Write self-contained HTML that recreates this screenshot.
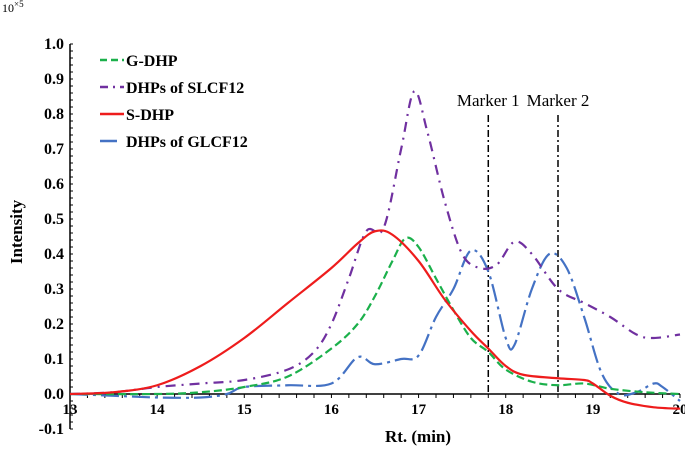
<!DOCTYPE html>
<html><head><meta charset="utf-8"><style>
body{margin:0;background:#fff;}
svg{display:block;font-family:"Liberation Serif",serif;}
</style></head><body>
<svg id="chart" width="685" height="452">
<text x="2" y="12" font-size="12">10<tspan font-size="9" dy="-5">×5</tspan></text>
<g id="axes"></g>
<g id="series"></g>
<text x="418" y="442" font-size="17" font-weight="bold" text-anchor="middle">Rt. (min)</text>
<text transform="translate(22,232) rotate(-90)" font-size="17" font-weight="bold" text-anchor="middle">Intensity</text>
<g font-size="16" font-weight="bold">
 <g><line x1="100" y1="60" x2="124" y2="60" stroke="#1bb04b" stroke-width="2.5" stroke-dasharray="7,4"/><text x="126" y="66">G-DHP</text></g>
 <g><line x1="100" y1="87" x2="124" y2="87" stroke="#7030a0" stroke-width="2.5" stroke-dasharray="8,5,2,5"/><text x="126" y="93">DHPs of SLCF12</text></g>
 <g><line x1="100" y1="114" x2="124" y2="114" stroke="#ee1c1c" stroke-width="2.5"/><text x="126" y="120">S-DHP</text></g>
 <g><line x1="100" y1="141" x2="117" y2="141" stroke="#4472c4" stroke-width="2.5"/><text x="126" y="147">DHPs of GLCF12</text></g>
</g>
</svg>
<script>
const xTicks=[13,14,15,16,17,18,19,20];
const yTicks=[-0.1,0,0.1,0.2,0.3,0.4,0.5,0.6,0.7,0.8,0.9,1.0];
const markerTimes=[17.8,18.6];
const markerLabels=["Marker 1","Marker 2"];
const sdhpX=[13,13.5,14,14.5,15,15.5,16,16.3,16.5,16.7,17,17.3,17.6,17.8,18,18.2,18.6,18.9,19.0,19.2,19.4,19.7,20];
const sdhpY=[0,0.005,0.025,0.08,0.16,0.26,0.36,0.43,0.465,0.455,0.38,0.27,0.18,0.13,0.08,0.055,0.045,0.04,0.03,-0.005,-0.025,-0.038,-0.042];
const gdhpX=[13,14,14.5,15,15.5,16,16.3,16.5,16.7,16.85,17,17.2,17.4,17.6,17.8,18,18.3,18.6,18.9,19.2,19.6,20];
const gdhpY=[0,0,0.005,0.02,0.05,0.13,0.2,0.28,0.38,0.445,0.42,0.33,0.24,0.16,0.12,0.07,0.035,0.025,0.03,0.015,0.005,0];
const slcfX=[13,13.5,14,14.5,15,15.5,15.8,16,16.2,16.4,16.6,16.8,16.95,17.1,17.3,17.5,17.7,17.9,18.1,18.3,18.6,18.9,19.2,19.5,19.7,20];
const slcfY=[0,0.005,0.02,0.03,0.04,0.07,0.12,0.2,0.33,0.465,0.475,0.7,0.865,0.75,0.55,0.4,0.36,0.37,0.435,0.40,0.3,0.26,0.22,0.17,0.16,0.17];
const glcfX=[13,13.5,14,14.5,14.8,15,15.5,16,16.3,16.5,16.8,17.0,17.2,17.4,17.6,17.8,18.0,18.1,18.3,18.5,18.7,18.9,19.1,19.3,19.5,19.7,19.8,20];
const glcfY=[0,-0.005,-0.01,-0.01,0,0.02,0.025,0.03,0.105,0.085,0.1,0.11,0.22,0.3,0.41,0.35,0.16,0.14,0.3,0.4,0.36,0.22,0.06,0.0,0.005,0.03,0.02,-0.02];
const NS="http://www.w3.org/2000/svg";
const X0=70,X1=680,Y0=394,PX=(X1-X0)/7,PY=350;
function xs(t){return X0+(t-13)*PX;}
function ys(v){return Y0-v*PY;}
function mk(tag,attrs,parent){const e=document.createElementNS(NS,tag);for(const k in attrs)e.setAttribute(k,attrs[k]);parent.appendChild(e);return e;}
const axes=document.getElementById('axes');
const ya=mk('line',{x1:X0,y1:ys(1.0),x2:X0,y2:ys(-0.1),stroke:'#000','stroke-width':1.5},axes);


const xa=mk('line',{x1:X0,y1:Y0,x2:X1,y2:Y0,stroke:'#000','stroke-width':1.5},axes);


for(let v=-0.1;v<=1.0001;v+=0.02){mk('line',{x1:X0,y1:ys(v),x2:X0+3,y2:ys(v),stroke:'#000','stroke-width':1},axes);}
for(let t=13;t<=20.001;t+=0.2){mk('line',{x1:xs(t),y1:Y0,x2:xs(t),y2:Y0+4,stroke:'#000','stroke-width':1},axes);}
yTicks.forEach(v=>{const t=mk('text',{x:X0-6,y:ys(v)+5,'font-size':16,'font-weight':'bold','text-anchor':'end'},axes);t.textContent=v.toFixed(1);

});
xTicks.forEach(v=>{const t=mk('text',{x:xs(v),y:Y0+20,'font-size':15,'font-weight':'bold','text-anchor':'middle'},axes);t.textContent=v;

});
markerTimes.forEach((m,i)=>{const l=mk('line',{x1:xs(m),y1:115,x2:xs(m),y2:Y0,stroke:'#000','stroke-width':1.5,'stroke-dasharray':'7,3,2,3'},axes);


const t=mk('text',{x:xs(m),y:106,'font-size':17,'text-anchor':'middle'},axes);t.textContent=markerLabels[i];

});
function path(xv,yv){const p=xv.map((x,i)=>[xs(x),ys(yv[i])]);let d='M'+p[0][0]+','+p[0][1];
for(let i=0;i<p.length-1;i++){const a=p[Math.max(0,i-1)],b=p[i],c=p[i+1],e=p[Math.min(p.length-1,i+2)];
d+=' C'+(b[0]+(c[0]-a[0])/6)+','+(b[1]+(c[1]-a[1])/6)+' '+(c[0]-(e[0]-b[0])/6)+','+(c[1]-(e[1]-b[1])/6)+' '+c[0]+','+c[1];}return d;}
const sg=document.getElementById('series');
const defs=[[glcfX,glcfY,'#4472c4','18,5,3,5','series-glcf12'],[gdhpX,gdhpY,'#1bb04b','8,4','series-g-dhp'],[slcfX,slcfY,'#7030a0','10,6,2,6','series-slcf12'],[sdhpX,sdhpY,'#ee1c1c','none','series-s-dhp']];
defs.forEach(s=>{const e=mk('path',{d:path(s[0],s[1]),fill:'none',stroke:s[2],'stroke-width':2.2,'stroke-dasharray':s[3]},sg);

});
</script>
</body></html>
